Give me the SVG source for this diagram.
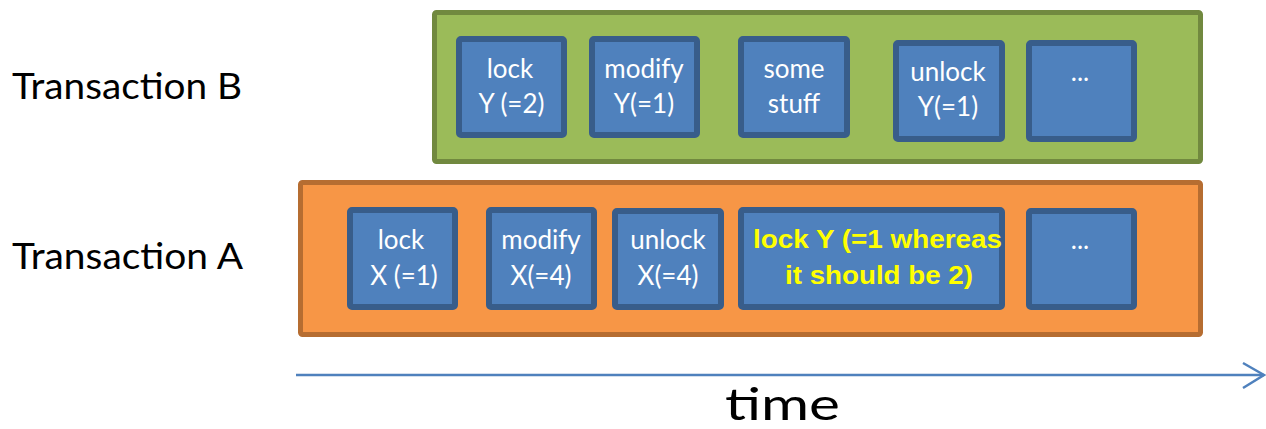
<svg xmlns="http://www.w3.org/2000/svg" width="1266" height="429" viewBox="0 0 1266 429">
<style>
.bg{fill:#ffffff}
.green{fill:#9BBB59;stroke:#71893F;stroke-width:5}
.orange{fill:#F79646;stroke:#B66D31;stroke-width:5}
.box{fill:#4F81BD;stroke:#385D8A;stroke-width:6}
.t{font-family:Lato,"Liberation Sans",sans-serif;font-size:26px;fill:#ffffff;text-anchor:middle}
.y{font-family:"Liberation Sans",Arial,sans-serif;font-weight:bold;font-size:26px;fill:#FFFF00;text-anchor:middle}
.lab{font-family:Lato,"Liberation Sans",sans-serif;font-size:36px;fill:#000000}
.axis{stroke:#4F81BD;stroke-width:2.5;fill:none}
</style>
<rect class="bg" x="0" y="0" width="1266" height="429"/>
<g id="transactionB">
<rect class="green" x="434.5" y="12.5" width="766" height="149" rx="2"/>
<text class="lab" x="12" y="99" textLength="230" lengthAdjust="spacingAndGlyphs">Transaction B</text>
</g>
<g id="transactionA">
<rect class="orange" x="300.5" y="182.5" width="900" height="152" rx="2"/>
<text class="lab" x="12" y="269" textLength="231" lengthAdjust="spacingAndGlyphs">Transaction A</text>
</g>
<g id="b1">
<rect class="box" x="459" y="39" width="105" height="96" rx="2"/>
<text class="t" x="510" y="78">lock</text>
<text class="t" x="511.5" y="113">Y (=2)</text>
</g>
<g id="b2">
<rect class="box" x="592" y="39" width="105" height="96" rx="2"/>
<text class="t" x="644" y="78">modify</text>
<text class="t" x="644" y="113">Y(=1)</text>
</g>
<g id="b3">
<rect class="box" x="741" y="39" width="106" height="96" rx="2"/>
<text class="t" x="794" y="78">some</text>
<text class="t" x="794" y="113">stuff</text>
</g>
<g id="b4">
<rect class="box" x="896" y="43" width="106" height="96" rx="2"/>
<text class="t" x="948" y="81">unlock</text>
<text class="t" x="948" y="116">Y(=1)</text>
</g>
<g id="b5">
<rect class="box" x="1029" y="43" width="105" height="96" rx="2"/>
<text class="t" x="1080" y="81">...</text>
</g>
<g id="a1">
<rect class="box" x="350" y="210" width="105" height="97" rx="2"/>
<text class="t" x="401" y="249">lock</text>
<text class="t" x="404" y="285">X (=1)</text>
</g>
<g id="a2">
<rect class="box" x="489" y="210" width="105" height="97" rx="2"/>
<text class="t" x="541" y="249">modify</text>
<text class="t" x="541" y="285">X(=4)</text>
</g>
<g id="a3">
<rect class="box" x="615" y="211" width="106" height="96" rx="2"/>
<text class="t" x="668" y="249">unlock</text>
<text class="t" x="668" y="285">X(=4)</text>
</g>
<g id="a4">
<rect class="box" x="741" y="210" width="261" height="97" rx="2"/>
<text class="y" x="877.5" y="248" textLength="249" lengthAdjust="spacingAndGlyphs">lock Y (=1 whereas</text>
<text class="y" x="879" y="284" textLength="188" lengthAdjust="spacingAndGlyphs">it should be 2)</text>
</g>
<g id="a5">
<rect class="box" x="1029" y="211" width="105" height="96" rx="2"/>
<text class="t" x="1080" y="249">...</text>
</g>
<g id="connectors">
<line class="axis" x1="296" y1="375" x2="1264" y2="375"/>
<polyline class="axis" points="1243,363 1264,375 1243,388"/>
</g>
<g id="timeLabel">
<text class="lab" x="725" y="420" textLength="115" lengthAdjust="spacingAndGlyphs" style="font-size:44px">time</text>
</g>
</svg>
